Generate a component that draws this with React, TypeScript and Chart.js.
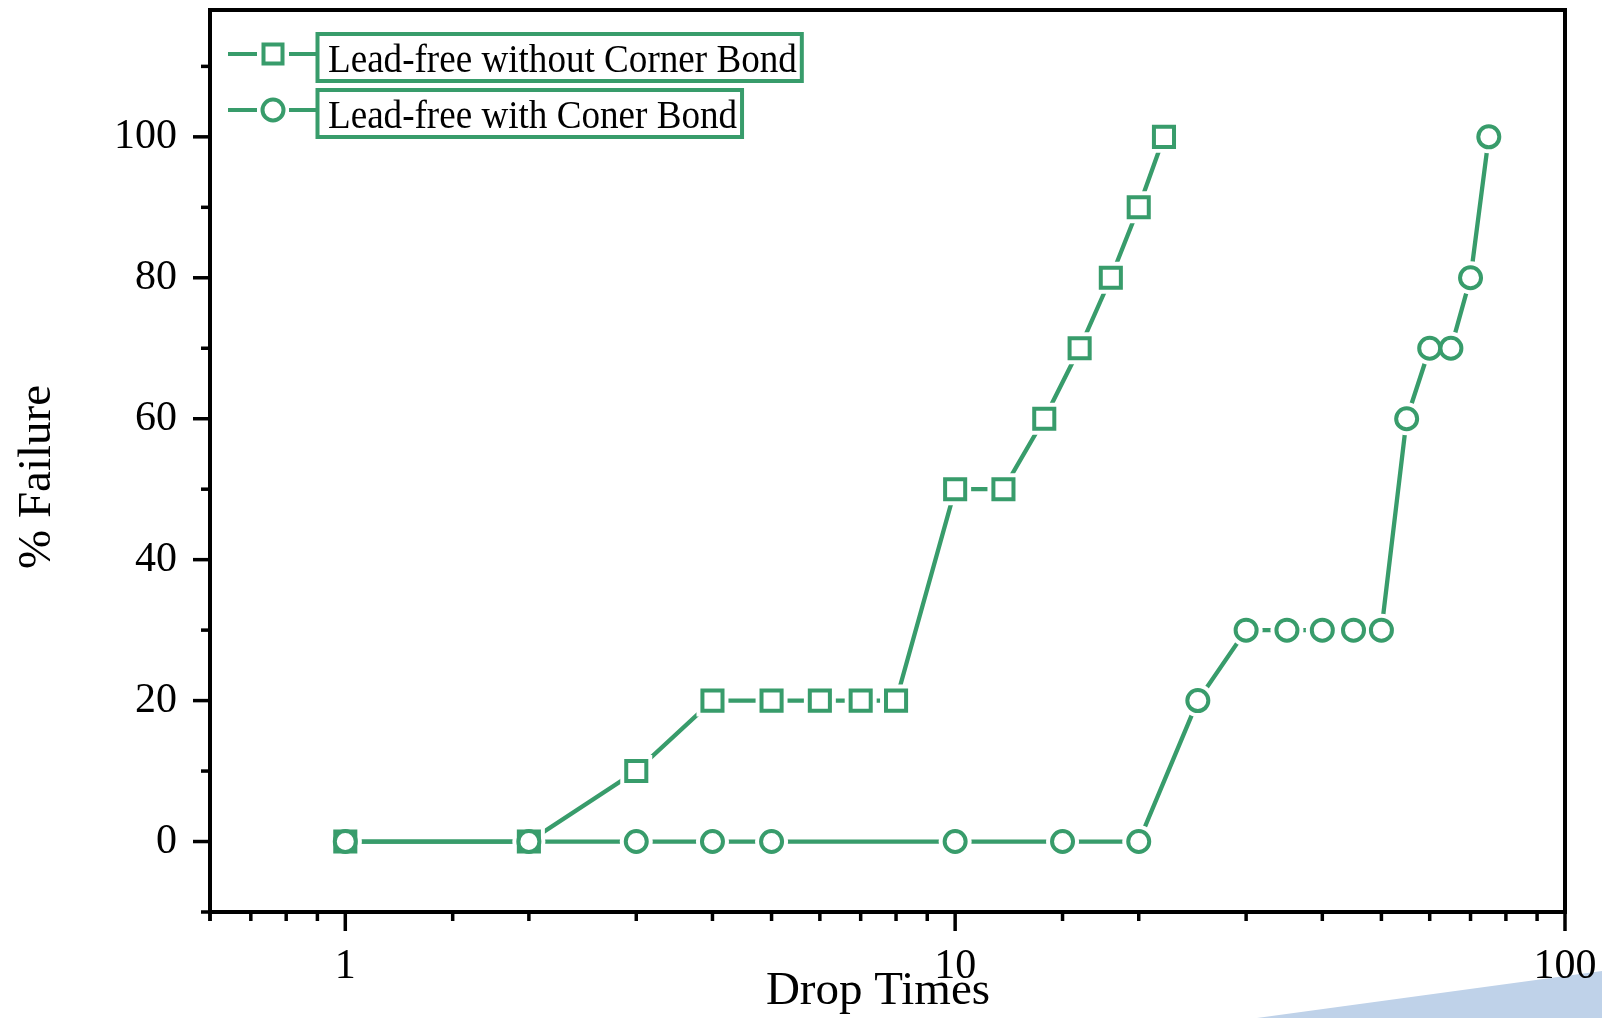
import React, { useEffect, useRef } from 'react';
import { Chart, registerables } from 'chart.js';

Chart.register(...registerables);

// ---- data ----
const dropTimesNoBond = [1, 2, 3, 4, 5, 6, 7, 8, 10, 12, 14, 16, 18, 20, 22];
const failureNoBond = [0, 0, 10, 20, 20, 20, 20, 20, 50, 50, 60, 70, 80, 90, 100];
const dropTimesWithBond = [1, 2, 3, 4, 5, 10, 15, 20, 25, 30, 35, 40, 45, 50, 55, 60, 65, 70, 75];
const failureWithBond = [0, 0, 0, 0, 0, 0, 0, 0, 20, 30, 30, 30, 30, 30, 60, 70, 70, 80, 100];
const seriesLabels = ['Lead-free without Corner Bond', 'Lead-free with Coner Bond'];
const xTickLabels = [1, 10, 100];
const yTickLabels = [0, 20, 40, 60, 80, 100];
const yMinorTicks = [-10, 10, 30, 50, 70, 90, 110];
const xAxisTitle = 'Drop Times';
const yAxisTitle = '% Failure';

const GREEN = '#389c6b';
const FONT = '"Liberation Serif", "Times New Roman", serif';

const toPoints = (xs: number[], ys: number[]) => xs.map((x, i) => ({ x, y: ys[i] }));

const isDecade = (v: number) => Math.abs(Math.log10(v) - Math.round(Math.log10(v))) < 1e-6;

const decoPlugin = {
  id: 'deco',
  beforeDraw(chart: any) {
    const ctx = chart.ctx;
    ctx.save();
    ctx.fillStyle = '#ffffff';
    ctx.fillRect(0, 0, chart.width, chart.height);
    ctx.fillStyle = 'rgb(191,210,233)';
    ctx.beginPath();
    ctx.moveTo(1257, 1018);
    ctx.lineTo(1602, 971);
    ctx.lineTo(1602, 1018);
    ctx.closePath();
    ctx.fill();
    ctx.restore();
  },
  afterDraw(chart: any) {
    const { ctx, chartArea: a, scales } = chart;
    ctx.save();
    // frame
    ctx.strokeStyle = '#000';
    ctx.lineWidth = 4;
    ctx.strokeRect(a.left, a.top, a.right - a.left, a.bottom - a.top);

    // x tick marks
    ctx.lineWidth = 3.5;
    const xs = scales.x;
    xs.ticks.forEach((t: any) => {
      const px = xs.getPixelForValue(t.value);
      const len = isDecade(t.value) ? 19 : 9;
      ctx.beginPath();
      ctx.moveTo(px, a.bottom);
      ctx.lineTo(px, a.bottom + len);
      ctx.stroke();
    });
    // y tick marks
    const ys = scales.y;
    const drawY = (v: number, len: number) => {
      const py = ys.getPixelForValue(v);
      ctx.beginPath();
      ctx.moveTo(a.left, py);
      ctx.lineTo(a.left - len, py);
      ctx.stroke();
    };
    yTickLabels.forEach((v) => drawY(v, 17));
    yMinorTicks.forEach((v) => drawY(v, 9));

    // axis titles
    ctx.fillStyle = '#000';
    ctx.font = `47px ${FONT}`;
    ctx.textAlign = 'center';
    ctx.textBaseline = 'alphabetic';
    ctx.fillText(xAxisTitle, 878, 1004);
    ctx.save();
    ctx.translate(50, 477);
    ctx.rotate(-Math.PI / 2);
    ctx.fillText(yAxisTitle, 0, 0);
    ctx.restore();

    // legend
    const rows = [
      { label: seriesLabels[0], style: 'rect', y: 54 },
      { label: seriesLabels[1], style: 'circle', y: 110 },
    ];
    const sx = 0.905;
    ctx.font = `41px ${FONT}`;
    ctx.textAlign = 'left';
    rows.forEach((r) => {
      ctx.strokeStyle = GREEN;
      ctx.lineWidth = 4;
      ctx.beginPath();
      ctx.moveTo(228, r.y);
      ctx.lineTo(257, r.y);
      ctx.moveTo(289, r.y);
      ctx.lineTo(317, r.y);
      ctx.stroke();
      ctx.fillStyle = '#fff';
      ctx.beginPath();
      if (r.style === 'rect') {
        ctx.rect(273 - 9.5, r.y - 9.5, 19, 19);
      } else {
        ctx.arc(273, r.y, 10.5, 0, Math.PI * 2);
      }
      ctx.fill();
      ctx.stroke();
      const tw = ctx.measureText(r.label).width * sx;
      ctx.strokeRect(317.5, r.y - 20, 10.5 + tw + 5, 47);
      ctx.fillStyle = '#000';
      ctx.save();
      ctx.translate(328, r.y + 18);
      ctx.scale(sx, 1);
      ctx.fillText(r.label, 0, 0);
      ctx.restore();
    });
    ctx.restore();
  },
};

const zeroPadding = (s: any) => {
  s.paddingTop = 0;
  s.paddingBottom = 0;
  s.paddingLeft = 0;
  s.paddingRight = 0;
};

export default function App() {
  const ref = useRef<HTMLCanvasElement | null>(null);

  useEffect(() => {
    document.body.style.margin = '0';
    const canvas = ref.current;
    if (!canvas) return;
    const noBond = toPoints(dropTimesNoBond, failureNoBond);
    const withBond = toPoints(dropTimesWithBond, failureWithBond);

    const chart = new Chart(canvas, {
      type: 'scatter',
      data: {
        datasets: [
          // markers (top)
          {
            label: seriesLabels[1],
            data: withBond,
            showLine: false,
            pointStyle: 'circle',
            pointRadius: 10.5,
            pointBorderWidth: 4,
            pointBorderColor: GREEN,
            pointBackgroundColor: '#fff',
            order: 1,
          },
          {
            label: seriesLabels[0],
            data: noBond,
            showLine: false,
            pointStyle: 'rect',
            pointRadius: 14.2,
            pointBorderWidth: 4,
            pointBorderColor: GREEN,
            pointBackgroundColor: '#fff',
            order: 2,
          },
          // white halos producing gaps between lines and markers
          {
            label: 'halo-b',
            data: withBond,
            showLine: false,
            pointStyle: 'circle',
            pointRadius: 16.5,
            pointBorderWidth: 0,
            pointBackgroundColor: '#fff',
            order: 3,
          },
          {
            label: 'halo-a',
            data: noBond,
            showLine: false,
            pointStyle: 'rect',
            pointRadius: 22.6,
            pointBorderWidth: 0,
            pointBackgroundColor: '#fff',
            order: 3,
          },
          // lines (bottom)
          {
            label: 'line-b',
            data: withBond,
            showLine: true,
            borderColor: GREEN,
            borderWidth: 4.3,
            pointRadius: 0,
            fill: false,
            order: 4,
          },
          {
            label: 'line-a',
            data: noBond,
            showLine: true,
            borderColor: GREEN,
            borderWidth: 4.3,
            pointRadius: 0,
            fill: false,
            order: 4,
          },
        ],
      },
      options: {
        animation: false,
        responsive: false,
        devicePixelRatio: 1,
        events: [],
        layout: { autoPadding: false, padding: { top: 10, right: 37, left: 0, bottom: 0 } },
        plugins: {
          legend: { display: false },
          tooltip: { enabled: false },
        },
        scales: {
          x: {
            type: 'logarithmic',
            min: 0.6,
            max: 100,
            grid: { display: false, drawTicks: false },
            border: { display: false },
            ticks: {
              autoSkip: false,
              maxRotation: 0,
              padding: 30,
              color: '#000',
              font: { family: FONT, size: 42 },
              callback: (v: any) => (xTickLabels.includes(Number(v)) ? String(v) : ''),
            },
            afterFit: (s: any) => {
              s.height = 106;
              zeroPadding(s);
            },
          },
          y: {
            type: 'linear',
            min: -10,
            max: 118,
            grid: { display: false, drawTicks: false },
            border: { display: false },
            afterBuildTicks: (s: any) => {
              s.ticks = yTickLabels.map((v) => ({ value: v }));
            },
            ticks: {
              padding: 33,
              color: '#000',
              font: { family: FONT, size: 42 },
              callback: (v: any) => String(v),
            },
            afterFit: (s: any) => {
              s.width = 210;
              zeroPadding(s);
            },
          },
        },
      },
      plugins: [decoPlugin],
    } as any);
    return () => chart.destroy();
  }, []);

  return (
    <div style={{ width: 1602, height: 1018 }}>
      <canvas ref={ref} width={1602} height={1018} style={{ display: 'block' }} />
    </div>
  );
}
